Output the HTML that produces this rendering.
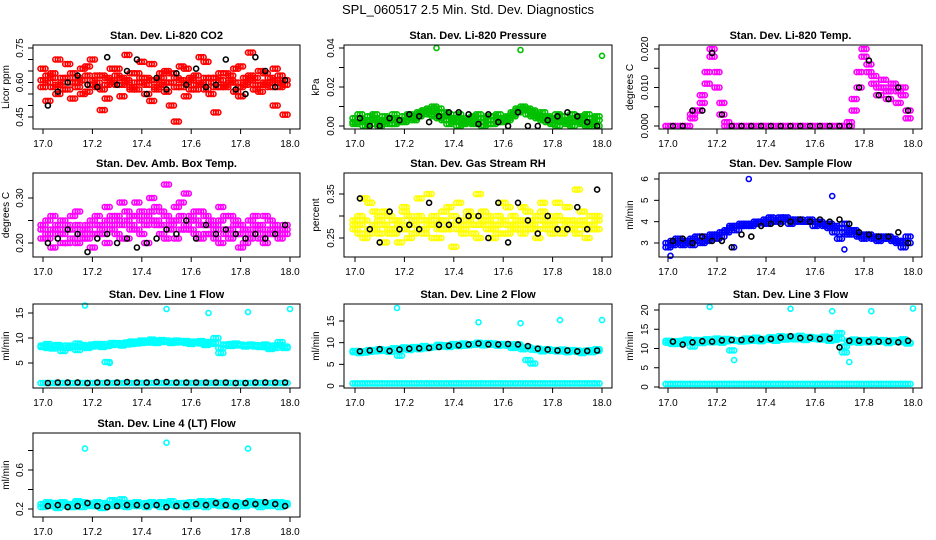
<!DOCTYPE html>
<html><head><meta charset="utf-8"><style>
html,body{margin:0;padding:0;background:#fff;}
svg{display:block;font-family:"Liberation Sans",sans-serif;}
</style></head><body>
<svg id="chart" width="936" height="540" viewBox="0 0 936 540" xmlns="http://www.w3.org/2000/svg">
<rect width="936" height="540" fill="#fff"/>
<text x="468" y="14" text-anchor="middle" font-size="13">SPL_060517  2.5 Min. Std. Dev. Diagnostics</text>
</svg>
<script>
const times = [17.00,17.02,17.04,17.06,17.08,17.10,17.12,17.14,17.16,17.18,17.20,17.22,17.24,17.26,17.28,17.30,17.32,17.34,17.36,17.38,17.40,17.42,17.44,17.46,17.48,17.50,17.52,17.54,17.56,17.58,17.60,17.62,17.64,17.66,17.68,17.70,17.72,17.74,17.76,17.78,17.80,17.82,17.84,17.86,17.88,17.90,17.92,17.94,17.96,17.98];
const blackTimes = [17.02,17.06,17.10,17.14,17.18,17.22,17.26,17.30,17.34,17.38,17.42,17.46,17.50,17.54,17.58,17.62,17.66,17.70,17.74,17.78,17.82,17.86,17.90,17.94,17.98];
const xTicks = [17.0,17.2,17.4,17.6,17.8,18.0];

const co2A = [0.66,0.63,0.58,0.70,0.62,0.57,0.64,0.60,0.55,0.67,0.61,0.58,0.63,0.53,0.66,0.59,0.62,0.72,0.57,0.64,0.60,0.55,0.68,0.61,0.59,0.65,0.50,0.62,0.58,0.66,0.57,0.63,0.60,0.69,0.55,0.62,0.58,0.64,0.61,0.56,0.67,0.60,0.63,0.57,0.65,0.59,0.62,0.66,0.58,0.61];
const co2B = [0.58,0.52,0.64,0.55,0.60,0.68,0.53,0.62,0.66,0.56,0.70,0.63,0.48,0.59,0.61,0.66,0.54,0.60,0.64,0.57,0.69,0.62,0.52,0.58,0.64,0.56,0.60,0.43,0.67,0.54,0.61,0.59,0.71,0.57,0.62,0.47,0.64,0.58,0.60,0.66,0.54,0.62,0.73,0.59,0.56,0.64,0.60,0.50,0.63,0.46];
const co2C = [0.61,0.60,0.62,0.59,0.57,0.62,0.60,0.58,0.61,0.63,0.59,0.60,0.57,0.62,0.60,0.63,0.59,0.61,0.58,0.60,0.62,0.59,0.61,0.57,0.62,0.60,0.64,0.58,0.61,0.60,0.62,0.57,0.59,0.62,0.60,0.58,0.61,0.59,0.63,0.60,0.58,0.59,0.61,0.62,0.59,0.60,0.58,0.61,0.60,0.59];
const co2K = [0.50,0.56,0.60,0.63,0.59,0.58,0.71,0.59,0.65,0.70,0.55,0.62,0.57,0.64,0.59,0.66,0.58,0.59,0.70,0.57,0.55,0.71,0.65,0.58,0.61];

const presA = [0.004,0.006,0.003,0.005,0.006,0.002,0.005,0.004,0.006,0.003,0.005,0.006,0.004,0.007,0.008,0.009,0.010,0.009,0.007,0.006,0.004,0.006,0.003,0.002,0.005,0.006,0.004,0.005,0.003,0.006,0.004,0.005,0.007,0.009,0.010,0.009,0.008,0.006,0.007,0.005,0.004,0.006,0.005,0.003,0.006,0.004,0.005,0.006,0.004,0.005];
const presB = [0.001,0.002,0.000,0.001,0.003,0.000,0.002,0.001,0.001,0.003,0.002,0.004,0.005,0.006,0.007,0.006,0.005,0.004,0.003,0.001,0.002,0.000,0.001,0.002,0.001,0.002,0.000,0.001,0.001,0.002,0.003,0.004,0.006,0.007,0.008,0.006,0.005,0.004,0.003,0.002,0.001,0.000,0.002,0.001,0.000,0.002,0.001,0.000,0.001,0.000];
const presC = [0.002,0.004,0.002,0.003,0.004,0.001,0.003,0.003,0.004,0.002,0.003,0.005,0.003,0.005,0.008,0.008,0.008,0.007,0.005,0.003,0.003,0.004,0.002,0.004,0.003,0.004,0.002,0.003,0.005,0.004,0.002,0.003,0.005,0.008,0.009,0.008,0.007,0.005,0.005,0.004,0.003,0.004,0.003,0.002,0.004,0.003,0.003,0.004,0.002,0.003];
const presK = [0.004,0.000,0.000,0.004,0.003,0.006,0.005,0.002,0.005,0.007,0.007,0.006,0.001,0.006,0.002,0.000,0.007,0.000,0.000,0.003,0.005,0.007,0.005,0.002,0.000];
const presOutX = [17.33,17.67,18.0];
const presOutY = [0.040,0.039,0.036];

const tempA = [0,0,0,0,0,0.002,0.004,0.006,0.011,0.018,0.014,0.006,0.001,0,0,0,0,0,0,0,0,0,0,0,0,0,0,0,0,0,0,0,0,0,0,0,0,0,0.004,0.010,0.018,0.016,0.013,0.010,0.012,0.009,0.010,0.009,0.008,0.004];
const tempB = [0,0,0,0,0,0.003,0.004,0.008,0.014,0.020,0.010,0.003,0,0,0,0,0,0,0,0,0,0,0,0,0,0,0,0,0,0,0,0,0,0,0,0,0,0.001,0.007,0.014,0.020,0.014,0.011,0.008,0.010,0.007,0.011,0.006,0.010,0.002];
const tempK = [0,0,0.004,0.004,0.019,0.003,0,0,0,0,0,0,0,0,0,0,0,0,0,0.010,0.017,0.008,0.007,0.010,0.004];

const ambA = [0.24,0.21,0.26,0.22,0.25,0.20,0.23,0.27,0.21,0.24,0.19,0.26,0.22,0.28,0.23,0.25,0.21,0.27,0.24,0.29,0.22,0.26,0.30,0.24,0.27,0.21,0.25,0.28,0.23,0.31,0.26,0.22,0.27,0.24,0.25,0.21,0.28,0.23,0.26,0.22,0.24,0.20,0.25,0.23,0.21,0.26,0.22,0.24,0.21,0.23];
const ambB = [0.21,0.25,0.19,0.23,0.20,0.24,0.26,0.20,0.23,0.21,0.25,0.22,0.24,0.20,0.26,0.22,0.29,0.21,0.26,0.23,0.27,0.20,0.25,0.28,0.22,0.33,0.24,0.21,0.29,0.23,0.25,0.27,0.21,0.26,0.22,0.24,0.20,0.26,0.21,0.25,0.19,0.23,0.21,0.26,0.24,0.20,0.25,0.23,0.22,0.24];
const ambC = [0.23,0.22,0.23,0.24,0.22,0.23,0.21,0.24,0.22,0.23,0.22,0.24,0.23,0.25,0.24,0.26,0.24,0.25,0.23,0.26,0.25,0.24,0.27,0.25,0.24,0.26,0.23,0.25,0.26,0.24,0.23,0.25,0.24,0.22,0.24,0.23,0.25,0.22,0.23,0.24,0.22,0.23,0.22,0.24,0.23,0.22,0.23,0.22,0.23,0.22];
const ambK = [0.20,0.21,0.23,0.22,0.18,0.21,0.22,0.20,0.21,0.19,0.20,0.21,0.23,0.22,0.25,0.21,0.24,0.22,0.23,0.22,0.21,0.22,0.21,0.22,0.24];

const rhA = [0.27,0.30,0.25,0.33,0.28,0.26,0.31,0.27,0.29,0.24,0.32,0.28,0.26,0.30,0.27,0.35,0.25,0.29,0.31,0.27,0.28,0.33,0.26,0.30,0.28,0.25,0.31,0.29,0.27,0.30,0.26,0.32,0.28,0.29,0.26,0.31,0.27,0.30,0.33,0.28,0.26,0.30,0.27,0.32,0.29,0.26,0.31,0.28,0.27,0.30];
const rhB = [0.29,0.26,0.34,0.27,0.31,0.29,0.24,0.30,0.26,0.28,0.31,0.25,0.29,0.34,0.26,0.28,0.30,0.25,0.27,0.32,0.23,0.29,0.27,0.31,0.26,0.35,0.28,0.30,0.25,0.28,0.33,0.26,0.30,0.27,0.32,0.28,0.29,0.25,0.31,0.27,0.29,0.33,0.26,0.29,0.27,0.36,0.28,0.25,0.30,0.29];
const rhC = [0.28,0.28,0.29,0.26,0.27,0.30,0.28,0.26,0.27,0.29,0.27,0.30,0.28,0.27,0.29,0.29,0.28,0.27,0.29,0.28,0.30,0.27,0.28,0.29,0.30,0.28,0.29,0.27,0.28,0.26,0.29,0.28,0.27,0.28,0.29,0.27,0.28,0.27,0.29,0.30,0.28,0.27,0.29,0.28,0.27,0.28,0.29,0.27,0.28,0.27];
const rhK = [0.34,0.27,0.24,0.31,0.27,0.28,0.27,0.33,0.28,0.28,0.29,0.30,0.30,0.25,0.33,0.24,0.33,0.29,0.26,0.30,0.27,0.27,0.32,0.27,0.36];

const sfA = [3.0,3.1,3.2,3.1,3.0,3.2,3.3,3.3,3.2,3.4,3.4,3.5,3.6,3.7,3.8,3.8,3.9,3.9,4.0,4.0,4.1,4.0,4.1,4.2,4.1,4.1,4.0,4.1,4.0,4.0,4.0,3.9,3.9,3.9,3.8,3.7,3.5,3.6,3.5,3.4,3.4,3.3,3.3,3.3,3.2,3.3,3.2,3.1,3.1,3.0];
const sfB = [2.8,2.9,3.0,2.9,3.1,2.9,3.1,3.0,3.1,3.3,3.2,3.3,3.5,3.8,3.6,3.9,3.8,3.8,3.9,4.0,3.9,4.2,4.0,4.0,4.2,3.9,4.1,4.0,4.0,4.1,3.8,4.0,3.8,3.7,3.5,3.2,3.9,3.4,3.6,3.3,3.2,3.4,3.2,3.1,3.3,3.2,3.1,3.0,2.8,3.3];
const sfK = [3.1,3.2,3.0,3.3,3.1,3.1,2.8,3.4,3.3,3.8,3.9,3.9,4.0,4.1,4.0,4.1,4.0,4.1,3.9,3.5,3.4,3.3,3.3,3.5,3.0];
const sfOutX = [17.33,17.67,17.01,17.72,17.27];
const sfOutY = [6.0,5.2,2.4,2.7,2.8];

const l1A = [8.2,8.0,8.4,8.3,8.1,8.5,8.2,7.6,8.6,8.4,8.7,8.5,8.8,8.4,9.0,8.7,8.9,9.1,8.8,9.2,9.0,9.3,9.1,9.4,9.2,9.5,9.3,9.1,9.4,9.0,9.2,9.3,8.9,9.1,8.8,9.0,7.0,8.6,8.8,8.5,8.7,8.4,8.6,8.3,8.5,8.2,8.4,8.0,8.6,8.3];
const l1B = [8.5,8.8,7.9,8.6,7.4,8.0,8.4,8.9,8.2,8.0,8.3,8.8,8.2,5.2,8.6,9.0,8.5,8.7,9.3,8.9,9.5,9.1,9.7,9.0,9.6,9.3,9.0,9.5,9.2,9.4,8.8,9.1,9.4,8.6,9.2,10.0,8.0,8.7,8.4,8.9,8.6,8.3,8.7,8.6,8.2,8.7,7.8,8.5,9.2,8.0];
const l1Low = [1.0,1.0,1.0,1.0,1.0,1.0,1.0,1.0,1.0,1.0,1.0,1.0,1.0,1.0,1.0,1.0,1.0,1.0,1.0,1.0,1.0,1.0,1.0,1.0,1.0,1.0,1.0,1.0,1.0,1.0,1.0,1.0,1.0,1.0,1.0,1.0,1.0,1.0,1.0,1.0,1.0,1.0,1.0,1.0,1.0,1.0,1.0,1.0,1.0,1.0];
const l1K = [1.0,1.1,1.1,1.1,1.0,1.1,1.1,1.1,1.2,1.1,1.1,1.2,1.2,1.1,1.1,1.1,1.1,1.1,1.1,1.0,1.0,1.1,1.1,1.1,1.1];
const l1OutX = [17.17,17.5,17.67,17.83,18.0,17.27];
const l1OutY = [16.5,15.8,15.0,15.2,15.8,5.0];

const l2A = [7.8,7.6,8.0,7.9,8.2,8.1,8.3,8.4,8.5,7.0,8.6,8.7,8.6,8.8,8.7,8.9,9.0,9.2,9.1,9.3,9.4,9.5,9.3,9.6,9.7,9.8,9.6,9.7,9.5,9.6,9.4,9.5,9.6,9.2,9.0,6.0,8.4,8.3,8.2,8.4,8.1,8.3,8.0,8.2,8.1,7.9,8.0,8.2,7.8,8.1];
const l2B = [8.1,7.9,7.7,8.3,8.0,8.5,8.2,7.9,8.7,8.4,8.9,8.3,9.0,8.5,9.2,8.8,9.0,9.5,9.4,9.0,9.7,9.2,9.8,9.4,9.5,10.0,9.4,9.9,9.8,9.3,9.7,9.3,8.8,9.6,8.5,9.0,5.2,8.6,8.0,8.5,8.3,8.0,8.4,7.8,8.3,8.2,7.6,8.1,8.3,8.5];
const l2Low = [0.6,0.6,0.6,0.6,0.6,0.6,0.6,0.6,0.6,0.6,0.6,0.6,0.6,0.6,0.6,0.6,0.6,0.6,0.6,0.6,0.6,0.6,0.6,0.6,0.6,0.6,0.6,0.6,0.6,0.6,0.6,0.6,0.6,0.6,0.6,0.6,0.6,0.6,0.6,0.6,0.6,0.6,0.6,0.6,0.6,0.6,0.6,0.6,0.6,0.6];
const l2K = [8.0,8.2,8.5,8.1,8.4,8.6,8.7,8.8,9.0,9.3,9.4,9.6,9.8,9.6,9.6,9.7,9.6,9.2,8.6,8.4,8.2,8.2,8.0,8.1,8.2];
const l2OutX = [17.17,17.5,17.67,17.83,18.0];
const l2OutY = [18.0,14.7,14.5,15.2,15.2];

const l3A = [11.5,11.8,11.2,12.0,11.6,11.9,11.5,12.1,11.7,12.0,11.8,12.2,11.9,12.3,12.0,12.2,11.9,12.4,12.1,12.3,12.5,12.2,12.6,12.4,12.8,12.5,13.0,12.7,12.6,12.9,12.5,12.7,12.4,12.8,12.2,12.6,9.0,12.0,11.8,12.1,11.9,12.0,11.7,12.1,11.8,11.6,12.0,11.7,11.9,11.5];
const l3B = [12.0,11.2,11.9,11.4,12.3,10.5,12.2,11.4,12.4,11.6,12.6,11.5,12.5,9.5,12.1,11.8,12.6,12.0,12.8,11.9,12.4,12.9,12.0,13.2,12.3,13.1,12.4,13.3,12.2,13.0,12.8,12.3,13.1,12.0,12.9,14.0,10.5,11.6,12.3,11.5,12.2,11.6,12.3,11.8,12.2,11.4,12.1,11.8,12.4,11.3];
const l3Low = [0.8,0.8,0.8,0.8,0.8,0.8,0.8,0.8,0.8,0.8,0.8,0.8,0.8,0.8,0.8,0.8,0.8,0.8,0.8,0.8,0.8,0.8,0.8,0.8,0.8,0.8,0.8,0.8,0.8,0.8,0.8,0.8,0.8,0.8,0.8,0.8,0.8,0.8,0.8,0.8,0.8,0.8,0.8,0.8,0.8,0.8,0.8,0.8,0.8,0.8];
const l3K = [11.8,11.0,11.6,11.9,11.8,12.1,12.2,12.2,12.3,12.4,12.5,12.8,13.2,12.7,12.8,12.5,12.6,10.3,12.0,12.0,11.8,11.8,11.9,11.6,12.0];
const l3OutX = [17.17,17.5,17.67,17.83,18.0,17.27,17.74];
const l3OutY = [20.8,20.3,19.7,19.7,20.4,7.0,6.5];

const l4A = [0.25,0.27,0.23,0.26,0.24,0.25,0.22,0.26,0.27,0.24,0.25,0.23,0.26,0.24,0.29,0.25,0.23,0.26,0.24,0.27,0.25,0.26,0.24,0.25,0.27,0.26,0.24,0.25,0.23,0.26,0.27,0.24,0.26,0.25,0.28,0.24,0.26,0.25,0.23,0.27,0.25,0.24,0.26,0.25,0.27,0.24,0.26,0.25,0.27,0.26];
const l4B = [0.22,0.24,0.26,0.21,0.27,0.23,0.25,0.28,0.22,0.26,0.23,0.27,0.21,0.25,0.23,0.27,0.30,0.22,0.26,0.23,0.25,0.22,0.27,0.24,0.22,0.25,0.28,0.23,0.26,0.22,0.24,0.23,0.28,0.22,0.25,0.27,0.23,0.28,0.25,0.22,0.26,0.23,0.28,0.24,0.22,0.26,0.23,0.27,0.22,0.24];
const l4K = [0.23,0.24,0.22,0.23,0.26,0.23,0.22,0.23,0.24,0.24,0.23,0.24,0.22,0.23,0.24,0.25,0.24,0.26,0.24,0.23,0.26,0.25,0.27,0.25,0.23];
const l4OutX = [17.17,17.5,17.83];
const l4OutY = [0.82,0.88,0.82];

const NS = 'http://www.w3.org/2000/svg';
const svg = document.getElementById('chart');
const cols = [{bl:33,br:300,x17:43,x18:290,lab:9,tl:23},{bl:344,br:612,x17:355,x18:602,lab:319,tl:334},{bl:659,br:922,x17:668,x18:913,lab:633,tl:648}];
const rows = [{bt:45,bb:129},{bt:173,bb:257},{bt:304,bb:388},{bt:433,bb:517}];

function mk(tag, attrs, parent){
  const e = document.createElementNS(NS, tag);
  for (const k in attrs) e.setAttribute(k, attrs[k]);
  parent.appendChild(e);
  return e;
}

const panels = [
 {name:'co2',title:'Stan. Dev. Li-820 CO2',ylab:'Licor ppm',c:0,r:0,v1:0.45,p1:117,v2:0.75,p2:48,ticks:[0.45,0.50,0.55,0.60,0.65,0.70,0.75],labels:['0.45','','','0.60','','','0.75'],
  series:[{x:times,y:co2A,col:'#ff0000',d:1},{x:times,y:co2B,col:'#ff0000',d:1},{x:times,y:co2C,col:'#ff0000',d:1},{x:blackTimes,y:co2K,col:'#000'}]},
 {name:'pressure',title:'Stan. Dev. Li-820 Pressure',ylab:'kPa',c:1,r:0,v1:0,p1:126,v2:0.04,p2:48,ticks:[0,0.01,0.02,0.03,0.04],labels:['0.00','','0.02','','0.04'],
  series:[{x:times,y:presA,col:'#00c000',d:1},{x:times,y:presB,col:'#00c000',d:1},{x:times,y:presC,col:'#00c000',d:1},{x:presOutX,y:presOutY,col:'#00c000'},{x:blackTimes,y:presK,col:'#000'}]},
 {name:'temp',title:'Stan. Dev. Li-820 Temp.',ylab:'degrees C',c:2,r:0,v1:0,p1:126,v2:0.02,p2:49,ticks:[0,0.005,0.01,0.015,0.02],labels:['0.000','','0.010','','0.020'],
  series:[{x:times,y:tempA,col:'#ff00ff',d:1},{x:times,y:tempB,col:'#ff00ff',d:1},{x:blackTimes,y:tempK,col:'#000'}]},
 {name:'ambbox',title:'Stan. Dev. Amb. Box Temp.',ylab:'degrees C',c:0,r:1,v1:0.20,p1:243,v2:0.30,p2:198,ticks:[0.20,0.25,0.30],labels:['0.20','','0.30'],
  series:[{x:times,y:ambA,col:'#ff00ff',d:1},{x:times,y:ambB,col:'#ff00ff',d:1},{x:times,y:ambC,col:'#ff00ff',d:1},{x:blackTimes,y:ambK,col:'#000'}]},
 {name:'rh',title:'Stan. Dev. Gas Stream RH',ylab:'percent',c:1,r:1,v1:0.25,p1:238,v2:0.35,p2:194,ticks:[0.25,0.30,0.35],labels:['0.25','','0.35'],
  series:[{x:times,y:rhA,col:'#ffff00',d:1},{x:times,y:rhB,col:'#ffff00',d:1},{x:times,y:rhC,col:'#ffff00',d:1},{x:blackTimes,y:rhK,col:'#000'}]},
 {name:'sampleflow',title:'Stan. Dev. Sample Flow',ylab:'ml/min',c:2,r:1,v1:3,p1:243,v2:6,p2:179,ticks:[3,4,5,6],labels:['3','4','5','6'],
  series:[{x:times,y:sfA,col:'#0000ff',d:1},{x:times,y:sfB,col:'#0000ff',d:1},{x:sfOutX,y:sfOutY,col:'#0000ff'},{x:blackTimes,y:sfK,col:'#000'}]},
 {name:'line1',title:'Stan. Dev. Line 1 Flow',ylab:'ml/min',c:0,r:2,v1:5,p1:363,v2:15,p2:313,ticks:[5,10,15],labels:['5','10','15'],
  series:[{x:times,y:l1A,col:'#00ffff',d:1},{x:times,y:l1B,col:'#00ffff',d:1},{x:times,y:l1Low,col:'#00ffff',d:1},{x:l1OutX,y:l1OutY,col:'#00ffff'},{x:blackTimes,y:l1K,col:'#000'}]},
 {name:'line2',title:'Stan. Dev. Line 2 Flow',ylab:'ml/min',c:1,r:2,v1:0,p1:386,v2:15,p2:321,ticks:[0,5,10,15],labels:['0','5','10','15'],
  series:[{x:times,y:l2A,col:'#00ffff',d:1},{x:times,y:l2B,col:'#00ffff',d:1},{x:times,y:l2Low,col:'#00ffff',d:1},{x:l2OutX,y:l2OutY,col:'#00ffff'},{x:blackTimes,y:l2K,col:'#000'}]},
 {name:'line3',title:'Stan. Dev. Line 3 Flow',ylab:'ml/min',c:2,r:2,v1:0,p1:387,v2:20,p2:310,ticks:[0,5,10,15,20],labels:['0','5','10','15','20'],
  series:[{x:times,y:l3A,col:'#00ffff',d:1},{x:times,y:l3B,col:'#00ffff',d:1},{x:times,y:l3Low,col:'#00ffff',d:1},{x:l3OutX,y:l3OutY,col:'#00ffff'},{x:blackTimes,y:l3K,col:'#000'}]},
 {name:'line4',title:'Stan. Dev. Line 4 (LT) Flow',ylab:'ml/min',c:0,r:3,v1:0.2,p1:509,v2:0.6,p2:470,ticks:[0.2,0.4,0.6,0.8],labels:['0.2','','0.6',''],
  series:[{x:times,y:l4A,col:'#00ffff',d:1},{x:times,y:l4B,col:'#00ffff',d:1},{x:l4OutX,y:l4OutY,col:'#00ffff'},{x:blackTimes,y:l4K,col:'#000'}]}
];

const smear = [-2.5, 0, 2.5];

panels.forEach(p => {
  const C = cols[p.c], R = rows[p.r];
  const xs = v => C.x17 + (v - 17) * (C.x18 - C.x17);
  const ys = v => p.p1 + (v - p.v1) * (p.p2 - p.p1) / (p.v2 - p.v1);
  const g = mk('g', {}, svg);
  
  
  const t = mk('text', {x:(C.bl + C.br) / 2, y:R.bt - 6, 'text-anchor':'middle', 'font-size':'11', 'font-weight':'bold'}, g);
  t.textContent = p.title;
  
  
  const yl = mk('text', {x:0, y:0, transform:'translate(' + C.lab + ',' + ((R.bt + R.bb) / 2) + ') rotate(-90)', 'text-anchor':'middle', 'font-size':'10'}, g);
  yl.textContent = p.ylab;
  
  
  const pg = mk('g', {fill:'none', 'stroke-width':'1.6'}, g);
  
  
  p.series.forEach(s => {
    const offs = s.d ? smear : [0];
    s.y.forEach((v, i) => {
      const py = ys(v);
      offs.forEach(o => {
        const ci = mk('circle', {cx:(xs(s.x[i]) + o).toFixed(1), cy:py.toFixed(1), r:'2.5', stroke:s.col}, pg);
        
        
      });
    });
  });
  const bx = mk('rect', {x:C.bl, y:R.bt, width:C.br - C.bl, height:R.bb - R.bt, fill:'none', stroke:'#000', 'stroke-width':'1'}, g);
  
  
  mk('line', {x1:xs(17), x2:xs(18), y1:R.bb, y2:R.bb, stroke:'#000'}, g);
  xTicks.forEach(v => {
    mk('line', {x1:xs(v), x2:xs(v), y1:R.bb, y2:R.bb + 5, stroke:'#000'}, g);
    const tl = mk('text', {x:xs(v), y:R.bb + 18, 'text-anchor':'middle', 'font-size':'10'}, g);
    tl.textContent = v.toFixed(1);
    
    
  });
  mk('line', {x1:C.bl, x2:C.bl, y1:ys(p.ticks[0]), y2:ys(p.ticks[p.ticks.length - 1]), stroke:'#000'}, g);
  p.ticks.forEach((v, i) => {
    mk('line', {x1:C.bl - 5, x2:C.bl, y1:ys(v), y2:ys(v), stroke:'#000'}, g);
    if (p.labels[i]) {
      const tl = mk('text', {x:0, y:0, transform:'translate(' + C.tl + ',' + ys(v) + ') rotate(-90)', 'text-anchor':'middle', 'font-size':'10'}, g);
      tl.textContent = p.labels[i];
      
      
    }
  });
});
</script>
</body></html>
